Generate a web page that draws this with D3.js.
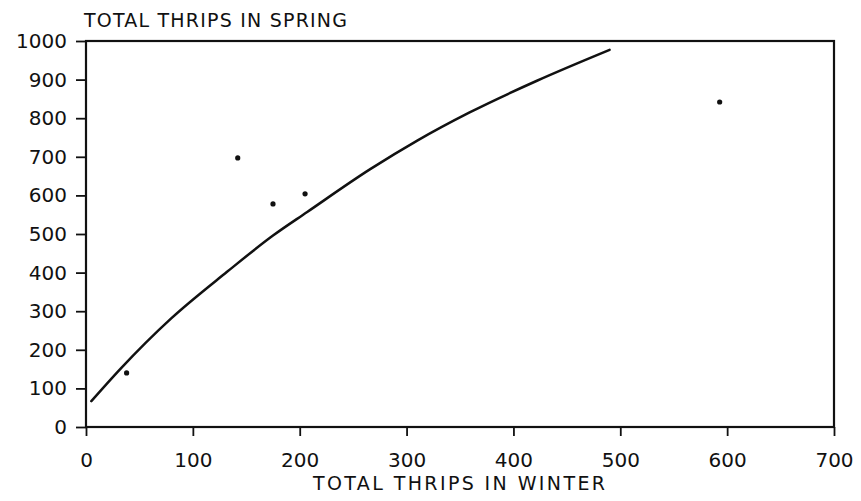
<!DOCTYPE html>
<html>
<head>
<meta charset="utf-8">
<script src="https://cdn.jsdelivr.net/npm/d3@7"></script>
<style>
  body { margin: 0; background: #fff; }
  text { font-family: "DejaVu Sans", sans-serif; fill: #111; }
</style>
</head>
<body>
<svg id="chart"></svg>
<script>
// observed (winter, spring) pairs
var winterPts = [38, 142, 175, 205, 593]
var springPts = [140, 697, 578, 604, 842]

// fitted curve
var curveX = [5, 32, 80, 132, 175, 207, 266, 310, 359, 422, 490]
var curveY = [67, 150, 282, 402, 496, 557, 668, 742, 815, 897, 977]

var xTicks = [0, 100, 200, 300, 400, 500, 600, 700]
var yTicks = [0, 100, 200, 300, 400, 500, 600, 700, 800, 900, 1000]

var margin = {top: 41, right: 27, bottom: 74, left: 86},
  width = 861 - margin.left - margin.right,
  height = 501 - margin.top - margin.bottom

var svg = d3.select('#chart')
  .attr('width', 861)
  .attr('height', 501)

var g = svg.append('g')
  .attr('transform', 'translate(' + margin.left + ',' + margin.top + ')')

var x = d3.scaleLinear().domain([0, 700]).range([0, width])
var y = d3.scaleLinear().domain([0, 1000]).range([height, 0])

// frame
g.append('rect')
  .attr('x', 0).attr('y', 0)
  .attr('width', width).attr('height', height)
  .attr('fill', 'none')
  .attr('stroke', '#111')
  .attr('stroke-width', 2.2)

// axes
var xAxis = g.append('g')
  .attr('transform', 'translate(0,' + height + ')')
  .call(d3.axisBottom(x).tickValues(xTicks).tickSize(9).tickPadding(17).tickFormat(d3.format('d')))
xAxis.select('.domain').remove()
xAxis.selectAll('line').attr('stroke', '#111').attr('stroke-width', 1.8)
xAxis.selectAll('text').attr('font-size', 20).style('font-weight', 500)

var yAxis = g.append('g')
  .call(d3.axisLeft(y).tickValues(yTicks).tickSize(10).tickPadding(9).tickFormat(d3.format('d')))
yAxis.select('.domain').remove()
yAxis.selectAll('line').attr('stroke', '#111').attr('stroke-width', 1.8)
yAxis.selectAll('text').attr('font-size', 20).style('font-weight', 500)

// fitted curve
var line = d3.line()
  .x(d => x(d[0]))
  .y(d => y(d[1]))
  .curve(d3.curveMonotoneX)

g.append('path')
  .datum(curveX.map((v, i) => [v, curveY[i]]))
  .attr('d', line)
  .attr('fill', 'none')
  .attr('stroke', '#111')
  .attr('stroke-width', 2.5)
  .attr('stroke-linecap', 'round')

// points
g.selectAll('circle.pt')
  .data(winterPts.map((v, i) => [v, springPts[i]]))
  .enter()
  .append('circle')
    .attr('class', 'pt')
    .attr('cx', d => x(d[0]))
    .attr('cy', d => y(d[1]))
    .attr('r', 2.6)
    .attr('fill', '#111')

// titles
svg.append('text')
  .attr('x', 84)
  .attr('y', 27)
  .attr('textLength', 263)
  .attr('font-size', 19)
  .text('TOTAL THRIPS IN SPRING')

svg.append('text')
  .attr('x', 313)
  .attr('y', 490)
  .attr('textLength', 292)
  .attr('font-size', 19)
  .text('TOTAL THRIPS IN WINTER')
</script>
</body>
</html>
